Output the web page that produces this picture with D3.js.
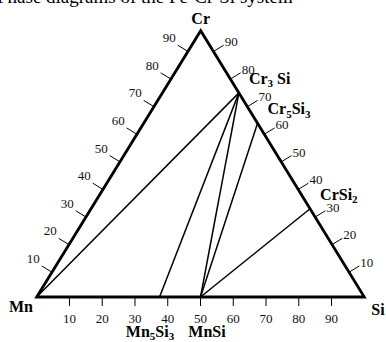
<!DOCTYPE html>
<html>
<head>
<meta charset="utf-8">
<script src="https://cdn.jsdelivr.net/npm/d3@7"></script>
<style>
  body { margin: 0; background: #fff; }
  svg { display: block; font-family: "Liberation Serif", "DejaVu Serif", serif; }
</style>
</head>
<body>
<script>
// corners of the ternary (Mn-Si-Cr)
var cornerNames = ["Mn", "Si", "Cr"];
// bottom edge: at.% Si
var bottomTicks = [10, 20, 30, 40, 50, 60, 70, 80, 90];
// side edges: at.% Cr
var sideTicks = [10, 20, 30, 40, 50, 60, 70, 80, 90];
// Cr-Si compounds on right edge (at.% Cr)
var crSiNames = ["Cr3Si", "Cr5Si3", "CrSi2"];
var crSiValues = [75, 64, 33];
// Mn-Si compounds on bottom edge (at.% Si)
var mnSiNames = ["Mn5Si3", "MnSi"];
var mnSiValues = [37.5, 50];
// tie lines between phases
var tieFrom = ["Mn", "Mn5Si3", "MnSi", "MnSi", "MnSi"];
var tieTo = ["Cr3Si", "Cr3Si", "Cr3Si", "Cr5Si3", "CrSi2"];

var width = 386, height = 342;
var svg = d3.select("body").append("svg")
  .attr("width", width)
  .attr("height", height);

var mn = {x: 36.7, y: 297}, si = {x: 364.3, y: 297}, cr = {x: 200.7, y: 30.7};

var x = d3.scaleLinear().domain([0, 100]).range([mn.x, si.x]);
// fraction along the side edges
var side = d3.scaleLinear().domain([10, 90]).range([0.093, 0.922]);

function leftPt(v) {
  var f = side(v);
  return {x: mn.x + f * (cr.x - mn.x), y: mn.y + f * (cr.y - mn.y)};
}
function rightPt(v) {
  var f = side(v);
  return {x: si.x + f * (cr.x - si.x), y: si.y + f * (cr.y - si.y)};
}

// title cut at the top of the page
svg.append("text")
  .text("Phase diagrams of the Fe-Cr-Si system")
  .attr("x", -3)
  .attr("y", 3)
  .attr("fill", "black")
  .style("font-size", "19px");

// points by name
var pts = {Mn: mn, Si: si, Cr: cr};
crSiNames.forEach(function(n, i) { pts[n] = rightPt(crSiValues[i]); });
mnSiNames.forEach(function(n, i) { pts[n] = {x: x(mnSiValues[i]), y: mn.y}; });

// tie lines
svg.selectAll("line.tie")
  .data(tieFrom)
  .enter()
  .append("line")
  .attr("class", "tie")
  .attr("x1", function(d) { return pts[d].x; })
  .attr("y1", function(d) { return pts[d].y; })
  .attr("x2", function(d, i) { return pts[tieTo[i]].x; })
  .attr("y2", function(d, i) { return pts[tieTo[i]].y; })
  .attr("stroke", "black")
  .attr("stroke-width", 1.5);

// bottom ticks
svg.selectAll("line.btick")
  .data(bottomTicks)
  .enter()
  .append("line")
  .attr("class", "btick")
  .attr("x1", function(d) { return x(d); })
  .attr("x2", function(d) { return x(d); })
  .attr("y1", mn.y)
  .attr("y2", mn.y + 9)
  .attr("stroke", "black")
  .attr("stroke-width", 1);

svg.selectAll("text.blabel")
  .data(bottomTicks)
  .enter()
  .append("text")
  .attr("class", "blabel")
  .text(function(d) { return d; })
  .attr("x", function(d) { return x(d); })
  .attr("y", 323)
  .attr("text-anchor", "middle")
  .attr("fill", "#111")
  .style("font-size", "13px");

// side ticks, perpendicular and pointing out
var lenL = Math.hypot(cr.x - mn.x, cr.y - mn.y);
var nL = {x: (cr.y - mn.y) / lenL, y: -(cr.x - mn.x) / lenL};
var lenR = Math.hypot(cr.x - si.x, cr.y - si.y);
var nR = {x: -(cr.y - si.y) / lenR, y: (cr.x - si.x) / lenR};
var tl = 12;

svg.selectAll("line.ltick")
  .data(sideTicks)
  .enter()
  .append("line")
  .attr("class", "ltick")
  .attr("x1", function(d) { return leftPt(d).x; })
  .attr("y1", function(d) { return leftPt(d).y; })
  .attr("x2", function(d) { return leftPt(d).x + nL.x * tl; })
  .attr("y2", function(d) { return leftPt(d).y + nL.y * tl; })
  .attr("stroke", "black")
  .attr("stroke-width", 1);

svg.selectAll("text.llabel")
  .data(sideTicks)
  .enter()
  .append("text")
  .attr("class", "llabel")
  .text(function(d) { return d; })
  .attr("x", function(d) { return leftPt(d).x + nL.x * tl - 2; })
  .attr("y", function(d) { return leftPt(d).y + nL.y * tl - 3; })
  .attr("text-anchor", "end")
  .attr("fill", "#111")
  .style("font-size", "13px");

svg.selectAll("line.rtick")
  .data(sideTicks)
  .enter()
  .append("line")
  .attr("class", "rtick")
  .attr("x1", function(d) { return rightPt(d).x; })
  .attr("y1", function(d) { return rightPt(d).y; })
  .attr("x2", function(d) { return rightPt(d).x + nR.x * tl; })
  .attr("y2", function(d) { return rightPt(d).y + nR.y * tl; })
  .attr("stroke", "black")
  .attr("stroke-width", 1);

svg.selectAll("text.rlabel")
  .data(sideTicks)
  .enter()
  .append("text")
  .attr("class", "rlabel")
  .text(function(d) { return d; })
  .attr("x", function(d) { return rightPt(d).x + nR.x * tl + 1; })
  .attr("y", function(d) { return rightPt(d).y + nR.y * tl + 1; })
  .attr("text-anchor", "start")
  .attr("fill", "#111")
  .style("font-size", "13px");

// triangle frame
svg.append("path")
  .attr("d", "M" + mn.x + "," + mn.y + "L" + cr.x + "," + cr.y + "L" + si.x + "," + si.y + "Z")
  .attr("fill", "none")
  .attr("stroke", "black")
  .attr("stroke-width", 2.8)
  .attr("stroke-linejoin", "miter");

// corner names
var cornerPos = [[21, 312], [378, 315], [cr.x, 24]];
svg.selectAll("text.corner")
  .data(cornerNames)
  .enter()
  .append("text")
  .attr("class", "corner")
  .text(function(d) { return d; })
  .attr("x", function(d, i) { return cornerPos[i][0]; })
  .attr("y", function(d, i) { return cornerPos[i][1]; })
  .attr("text-anchor", "middle")
  .attr("fill", "black")
  .style("font-size", "16px")
  .style("font-weight", "bold");

// chemical formula with subscripts
function formula(sel, name) {
  var parts = name.match(/[A-Z][a-z]?|\d+/g);
  parts.forEach(function(p, i) {
    var isNum = /\d/.test(p);
    var prevNum = i > 0 && /\d/.test(parts[i - 1]);
    var t = sel.append("tspan").text(p);
    if (isNum) t.attr("dy", 3.5).style("font-size", "11px");
    else if (prevNum) t.attr("dy", -3.5);
    // the paper writes "Cr3 Si" with a gap
    if (name == "Cr3Si" && i == 2) t.attr("dx", 4);
  });
}

crSiNames.forEach(function(n, i) {
  var p = rightPt(crSiValues[i]);
  var t = svg.append("text")
    .attr("x", p.x + 10)
    .attr("y", p.y - 9)
    .attr("fill", "black")
    .style("font-size", "16px")
    .style("font-weight", "bold");
  formula(t, n);
});

var mnLabelX = [150, 207];
mnSiNames.forEach(function(n, i) {
  var t = svg.append("text")
    .attr("x", mnLabelX[i])
    .attr("y", 336.5)
    .attr("text-anchor", "middle")
    .attr("fill", "black")
    .style("font-size", "16px")
    .style("font-weight", "bold");
  formula(t, n);
});
</script>
</body>
</html>
